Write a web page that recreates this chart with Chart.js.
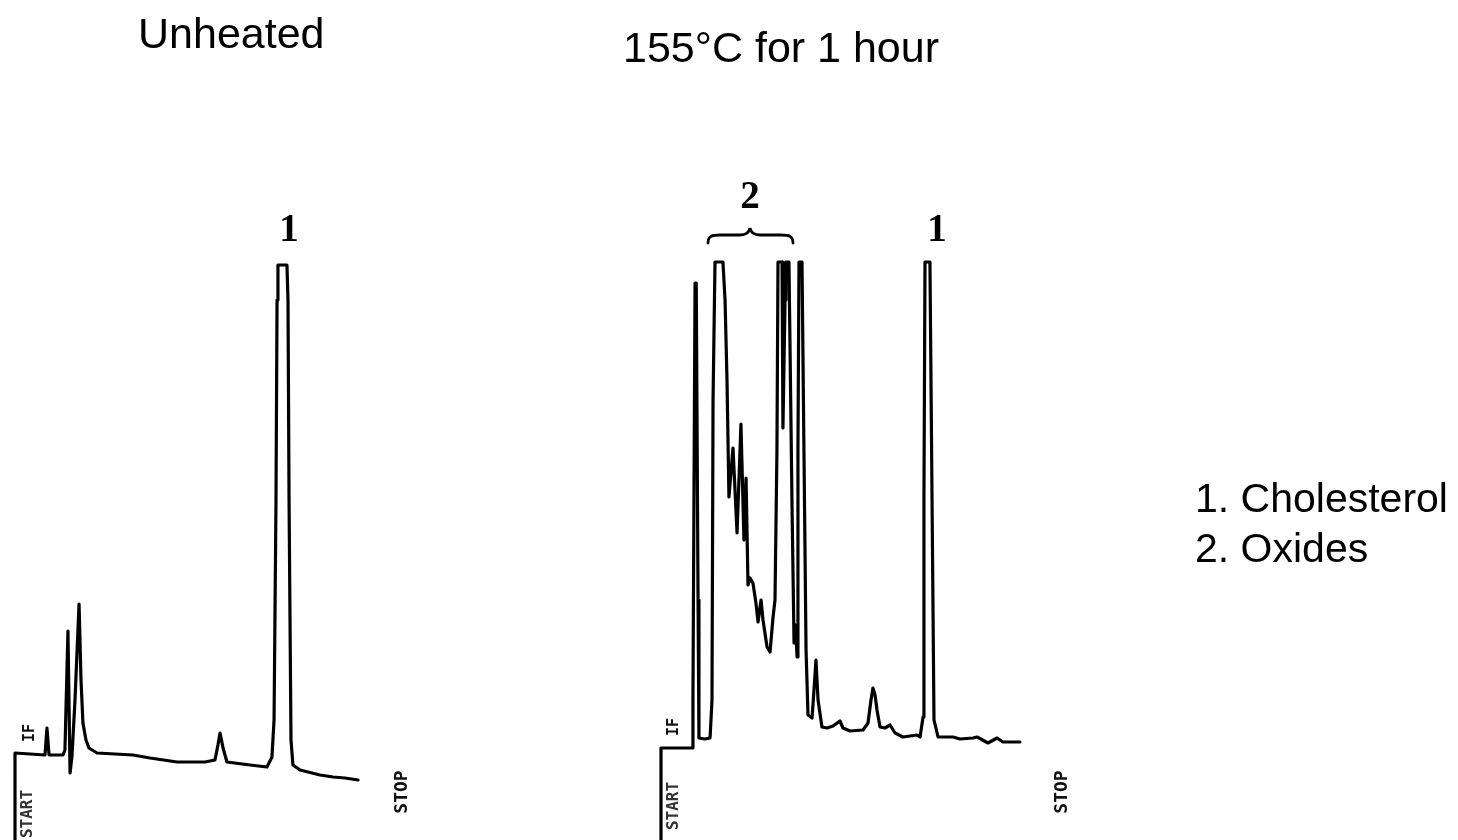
<!DOCTYPE html>
<html>
<head>
<meta charset="utf-8">
<script src="https://cdn.jsdelivr.net/npm/chart.js@4.4.1/dist/chart.umd.min.js"></script>
<style>
  html, body { margin: 0; padding: 0; background: #fff; overflow: hidden; width: 1458px; height: 840px; }
  #wrap { position: relative; width: 1458px; height: 840px; }
  canvas { position: absolute; }
  svg { position: absolute; left: 0; top: 0; }
</style>
</head>
<body>
<div id="wrap">
  <canvas id="cLeft" width="369" height="604" style="left:3px;top:248px"></canvas>
  <canvas id="cRight" width="384" height="604" style="left:649px;top:248px"></canvas>
  <svg width="1458" height="840" viewBox="0 0 1458 840">
    <g font-family="'Liberation Sans', Arial, sans-serif" fill="#000">
      <text x="138" y="48" font-size="43">Unheated</text>
      <text x="623" y="62" font-size="43">155°C for 1 hour</text>
      <text x="1195" y="512" font-size="41">1. Cholesterol</text>
      <text x="1195" y="562" font-size="41">2. Oxides</text>
    </g>
    <g font-family="'Liberation Serif', 'Times New Roman', serif" font-weight="bold" font-size="39" text-anchor="middle" fill="#000">
      <text x="289" y="241">1</text>
      <text x="937" y="241">1</text>
      <text x="750" y="208">2</text>
    </g>
    <path d="M708,243 C708,236 712,235 720,235 L740,235 C746,235 749,233 750,228 C751,233 754,235 760,235 L781,235 C789,235 793,236 793,243"
          fill="none" stroke="#000" stroke-width="2.8" stroke-linecap="round"/>
    <g font-family="'DejaVu Sans Mono', monospace" font-weight="bold" fill="#111" text-anchor="middle" dominant-baseline="central">
      <text font-size="18" transform="translate(400,792) rotate(-90)">STOP</text>
      <text font-size="18" transform="translate(1060,792) rotate(-90)">STOP</text>
      <text font-size="16" fill="#333" transform="translate(26,814) rotate(-90)">START</text>
      <text font-size="16" fill="#333" transform="translate(672,806) rotate(-90)">START</text>
      <text font-size="15" transform="translate(29,733) rotate(-90)">IF</text>
      <text font-size="15" transform="translate(673,727) rotate(-90)">IF</text>
    </g>
  </svg>
</div>
<script>
// Unheated sample: retention time (min) and detector signal (arbitrary units)
const unheatedTime = [0, 0, 1, 2, 2.13, 2.27, 3.2, 3.33, 3.53, 3.67, 3.8, 4, 4.27, 4.4, 4.53, 4.73, 4.93, 5.47, 7.87, 9, 10.8, 12.67, 13.33, 13.53, 13.67, 13.87, 14.13, 15.67, 16.8, 17.13, 17.27, 17.4, 17.47, 17.53, 18.13, 18.2, 18.27, 18.4, 18.53, 19, 20.33, 21.2, 22, 22.87];
const unheatedSignal = [0, 17.4, 17.2, 17, 22.4, 17, 17, 18, 41.8, 13.4, 16.8, 28, 47.2, 32, 23.4, 20, 18.4, 17.4, 17, 16.4, 15.6, 15.6, 16, 19, 21.4, 18.4, 15.6, 15, 14.6, 16.6, 24, 68, 108, 115, 115, 108, 68, 20, 15, 14, 13, 12.6, 12.4, 12];

// Heated sample (155°C for 1 hour)
const heatedTime = [0, 0, 2.07, 2.13, 2.27, 2.35, 2.47, 2.53, 2.93, 3.27, 3.4, 3.47, 3.6, 4.13, 4.27, 4.4, 4.53, 4.8, 5.07, 5.33, 5.53, 5.67, 5.8, 5.93, 6.13, 6.33, 6.47, 6.67, 6.8, 7.07, 7.27, 7.47, 7.6, 7.73, 7.8, 8.07, 8.13, 8.27, 8.33, 8.53, 8.73, 8.87, 8.97, 9.07, 9.13, 9.2, 9.4, 9.53, 9.67, 9.8, 10.07, 10.2, 10.33, 10.47, 10.73, 11.07, 11.47, 11.93, 12.13, 12.6, 13.47, 13.8, 14, 14.13, 14.27, 14.4, 14.6, 14.93, 15.27, 15.6, 16.13, 17.07, 17.27, 17.47, 17.53, 17.6, 17.93, 18.07, 18.2, 18.47, 19.47, 19.93, 20.8, 21.07, 21.8, 22.4, 22.8, 23.93];
const heatedSignal = [0, 18.4, 18.4, 28, 111.4, 111.4, 48, 20.4, 20.2, 20.4, 28, 88, 115.6, 115.6, 108, 92, 68.6, 78.4, 61.4, 83.2, 60, 72.4, 51, 52.4, 51.4, 47.4, 43.6, 48, 44, 38.6, 37.6, 44.6, 48, 78, 115.6, 115.6, 82.4, 108, 115.6, 115.6, 68, 39.4, 43, 36.6, 78, 115.6, 115.6, 78, 38, 25, 24.4, 30, 36, 28, 22.6, 22.4, 22.8, 23.8, 22.4, 21.8, 22, 23.4, 28, 30.4, 29, 26, 22.6, 22.4, 23, 21.4, 20.6, 21, 20.6, 24.6, 68, 115.6, 115.6, 68, 24, 20.6, 20.6, 20.2, 20.4, 20.6, 19.4, 20.4, 19.6, 19.6];

const leftRange = { xMax: 23, yMax: 116 };
const rightRange = { xMax: 24, yMax: 116 };

function makeTrace(id, times, signals, range) {
  const pts = times.map((t, i) => ({ x: t, y: signals[i] }));
  return new Chart(document.getElementById(id), {
    type: 'line',
    data: {
      datasets: [{
        data: pts,
        borderColor: '#000',
        borderWidth: 3.2,
        pointRadius: 0,
        tension: 0,
        fill: false,
        clip: false,
        borderJoinStyle: 'round',
        borderCapStyle: 'round'
      }]
    },
    options: {
      responsive: false,
      animation: false,
      devicePixelRatio: 1,
      layout: { padding: 12 },
      plugins: { legend: { display: false }, tooltip: { enabled: false } },
      scales: {
        x: { type: 'linear', min: 0, max: range.xMax, display: false },
        y: { type: 'linear', min: 0, max: range.yMax, display: false }
      }
    }
  });
}

makeTrace('cLeft', unheatedTime, unheatedSignal, leftRange);
makeTrace('cRight', heatedTime, heatedSignal, rightRange);
</script>
</body>
</html>
